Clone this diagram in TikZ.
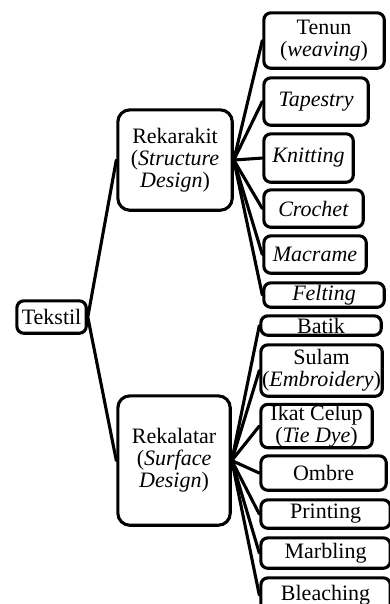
\documentclass[tikz,border=0pt]{standalone}
\usepackage{fontspec}
\setmainfont{Liberation Serif}
\usepackage{tikz}
\usetikzlibrary{positioning}
\tikzset{
    box/.style={draw,line width=3.1pt,rounded corners=7pt,align=center,inner sep=0pt,anchor=north west,font=\fontsize{22}{22}\selectfont},
    branch/.style={box,rounded corners=12pt},
    link/.style={line width=3.1pt,line cap=round},
}

\begin{document}
\begin{tikzpicture}[x=1pt,y=-1pt]
        \useasboundingbox (0,0) rectangle (389,604);
        \node[box,minimum width=69.4pt,minimum height=32.4pt] (tekstil) at (15.3,299.3) {Tekstil};
        \node[branch,minimum width=114.4pt,minimum height=100.4pt] (rekarakit) at (116.3,108.3) {Rekarakit\\(\textit{Structure}\\\textit{Design})};
        \node[branch,minimum width=112.4pt,minimum height=129.4pt] (rekalatar) at (116.3,394.3) {Rekalatar\\(\textit{Surface}\\\textit{Design})};
        \node[box,minimum width=120.4pt,minimum height=55.4pt] (tenun) at (262.3,11.3) {Tenun\\(\textit{weaving})};
        \node[box,minimum width=104.4pt,minimum height=47.4pt] (tapestry) at (262.3,76.3) {\textit{Tapestry}};
        \node[box,minimum width=89.4pt,minimum height=48.4pt] (knitting) at (262.3,132.3) {\textit{Knitting}};
        \node[box,minimum width=99.4pt,minimum height=37.4pt] (crochet) at (262.3,188.3) {\textit{Crochet}};
        \node[box,minimum width=102.4pt,minimum height=37.4pt] (macrame) at (262.3,234.3) {\textit{Macrame}};
        \node[box,minimum width=120.4pt,minimum height=24.4pt] (felting) at (262.3,281.3) {\textit{Felting}};
        \node[box,minimum width=120.4pt,minimum height=19.4pt] (batik) at (259.3,314.3) {Batik};
        \node[box,minimum width=121.4pt,minimum height=51.4pt] (sulam) at (259.3,343.3) {Sulam\\(\textit{Embroidery})};
        \node[box,minimum width=111.4pt,minimum height=43.4pt] (ikat) at (259.3,402.8) {Ikat Celup\\(\textit{Tie Dye})};
        \node[box,minimum width=125.4pt,minimum height=34.4pt] (ombre) at (259.3,454.3) {Ombre};
        \node[box,minimum width=129.4pt,minimum height=28.4pt] (printing) at (259.3,498.3) {Printing};
        \node[box,minimum width=129.4pt,minimum height=30.4pt] (marbling) at (259.3,536.3) {Marbling};
        \node[box,minimum width=129.4pt,minimum height=34.4pt] (bleaching) at (259.3,576.3) {Bleaching};
        \draw[link] (tekstil.east) -- (rekarakit.west) (tekstil.east) -- (rekalatar.west);
        \foreach \leaf in {tenun,tapestry,knitting,crochet,macrame,felting}
            \draw[link] (rekarakit.east) -- (\leaf.west);
        \foreach \leaf in {batik,sulam,ikat,ombre,printing,marbling,bleaching}
            \draw[link] (rekalatar.east) -- (\leaf.west);
    \end{tikzpicture}
\end{document}
